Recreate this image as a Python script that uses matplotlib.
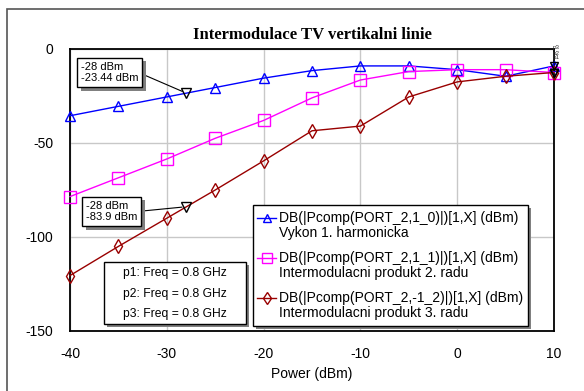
import matplotlib
matplotlib.use('Agg')
from matplotlib import pyplot as plt
from matplotlib.patches import Rectangle
from matplotlib.lines import Line2D
import matplotlib.patheffects as pe

# Sweep of input power and the three measured traces (dBm)
power = [-40, -35, -30, -25, -20, -15, -10, -5, 0, 5, 10]
harm_1 = [-35.5, -30.5, -25.5, -20.5, -15.5, -11.5, -9, -9, -11, -14.5, -9]
imd_2 = [-78.5, -68.5, -58.5, -47.5, -38, -26, -16.5, -12, -11, -11, -12.5]
imd_3 = [-120.5, -105, -90, -75, -59.5, -43.5, -41, -25.5, -17.5, -14.5, -12.5]

series_names = ['DB(|Pcomp(PORT_2,1_0)|)[1,X] (dBm)',
                'DB(|Pcomp(PORT_2,1_1)|)[1,X] (dBm)',
                'DB(|Pcomp(PORT_2,-1_2)|)[1,X] (dBm)']
series_desc = ['Vykon 1. harmonicka',
               'Intermodulacni produkt 2. radu',
               'Intermodulacni produkt 3. radu']
param_lines = ['p1: Freq = 0.8 GHz', 'p2: Freq = 0.8 GHz', 'p3: Freq = 0.8 GHz']
sweep_tags = ['p1', 'p2', 'p3']

# Marker readouts
marker_x = -28
marker_vals = [-23.44, -83.9]

W, H = 584, 391


def fx(x):
    return x / W


def fy(y):
    return 1 - y / H


plt.rcParams['font.family'] = ['Liberation Sans', 'DejaVu Sans']
plt.rcParams['axes.unicode_minus'] = False
fig = plt.figure(figsize=(W / 100, H / 100), dpi=100)

# outer frame of the graph window
fig.patches.append(Rectangle((fx(7), fy(420)), fx(640), (420 - 9) / H,
                             transform=fig.transFigure, fill=False,
                             edgecolor='#555555', lw=1.2))

ax = fig.add_axes([fx(70), fy(331), fx(484), (331 - 49) / H])

colors = ['#0000ff', '#ff00ff', '#990000']
markers = ['^', 's', 'd']
msizes = [7, 8, 7]
traces = [harm_1, imd_2, imd_3]

for ys, c, m, ms in zip(traces, colors, markers, msizes):
    ax.plot(power, ys, color=c, lw=1, marker=m, ms=ms, mfc='none', mec=c, mew=1,
            clip_on=False, zorder=3)
    # sweep markers p1..p3 at the end of each trace
    ax.plot(power[-1], ys[-1], marker='v', ms=6, mfc='none', mec='black',
            mew=1, clip_on=False, zorder=4)

# tiny sweep-marker tags stacked above the trace ends
for i, p in enumerate(sweep_tags):
    fig.text(fx(556), fy(58 - 5 * i), p, fontsize=4.5, color='#333333',
             ha='center', va='center', zorder=5)

ax.set_xlim(-40, 10)
ax.set_ylim(-150, 0)
ax.set_xticks([-40, -30, -20, -10, 0, 10])
ax.set_yticks([-150, -100, -50, 0])
ax.tick_params(length=0, labelsize=10, pad=12)
ax.tick_params(axis='x', pad=11.5)
ax.grid(color='#c8c8c8', lw=1)
ax.set_axisbelow(True)
for s in ax.spines.values():
    s.set_linewidth(1.3)
ax.set_xlabel('Power (dBm)', fontsize=10, labelpad=4)
fig.text(fx(312), fy(35), 'Intermodulace TV vertikalni linie', ha='center',
         va='center', fontsize=12, fontweight='bold', family='Liberation Serif')

shadow = [pe.SimplePatchShadow(offset=(2.5, -2.5), shadow_rgbFace='#808080', alpha=1),
          pe.Normal()]

# marker readout boxes
text_pos = [(81, 72.5), (86, 211.5)]
for val, (tx, ty) in zip(marker_vals, text_pos):
    ax.plot(marker_x, val, marker='v', ms=7, mfc='none', mec='black', mew=1, zorder=5)
    ann = ax.annotate(f'{marker_x} dBm\n{val} dBm', xy=(marker_x, val),
                      xytext=(tx, H - ty), textcoords='figure pixels',
                      ha='left', va='center', fontsize=8,
                      bbox=dict(boxstyle='square,pad=0.35', fc='white', ec='black', lw=1),
                      arrowprops=dict(arrowstyle='-', color='black', lw=0.8,
                                      relpos=(1, 0.5), shrinkA=0, shrinkB=3),
                      zorder=6)
    ann.get_bbox_patch().set_path_effects(shadow)

# parameter box
pbox = Rectangle((fx(104), fy(324)), fx(246 - 104), (324 - 262) / H,
                 transform=fig.transFigure, fc='white', ec='black', lw=1, zorder=6)
pbox.set_path_effects(shadow)
fig.patches.append(pbox)
for i, t in enumerate(param_lines):
    fig.text(fx(175), fy(273.3 + 20.3 * i), t, ha='center', va='center',
             fontsize=8.7, zorder=7)

# legend box
lbox = Rectangle((fx(253), fy(326)), fx(528 - 253), (326 - 205) / H,
                 transform=fig.transFigure, fc='white', ec='black', lw=1, zorder=6)
lbox.set_path_effects(shadow)
fig.patches.append(lbox)
for i, (name, desc, c, m, ms) in enumerate(zip(series_names, series_desc,
                                               colors, markers, msizes)):
    y0 = 217.7 + 40 * i
    fig.add_artist(Line2D([fx(257), fx(276)], [fy(y0), fy(y0)], color=c, lw=1,
                          transform=fig.transFigure, zorder=7))
    fig.add_artist(Line2D([fx(266.5)], [fy(y0)], color=c, marker=m, ms=ms - 1,
                          mfc='none', mec=c, mew=1, transform=fig.transFigure,
                          zorder=7))
    fig.text(fx(279), fy(y0), name, ha='left', va='center', fontsize=10, zorder=7)
    fig.text(fx(279), fy(y0 + 15), desc, ha='left', va='center', fontsize=10,
             zorder=7)

fig.savefig('out.png', dpi=100)
